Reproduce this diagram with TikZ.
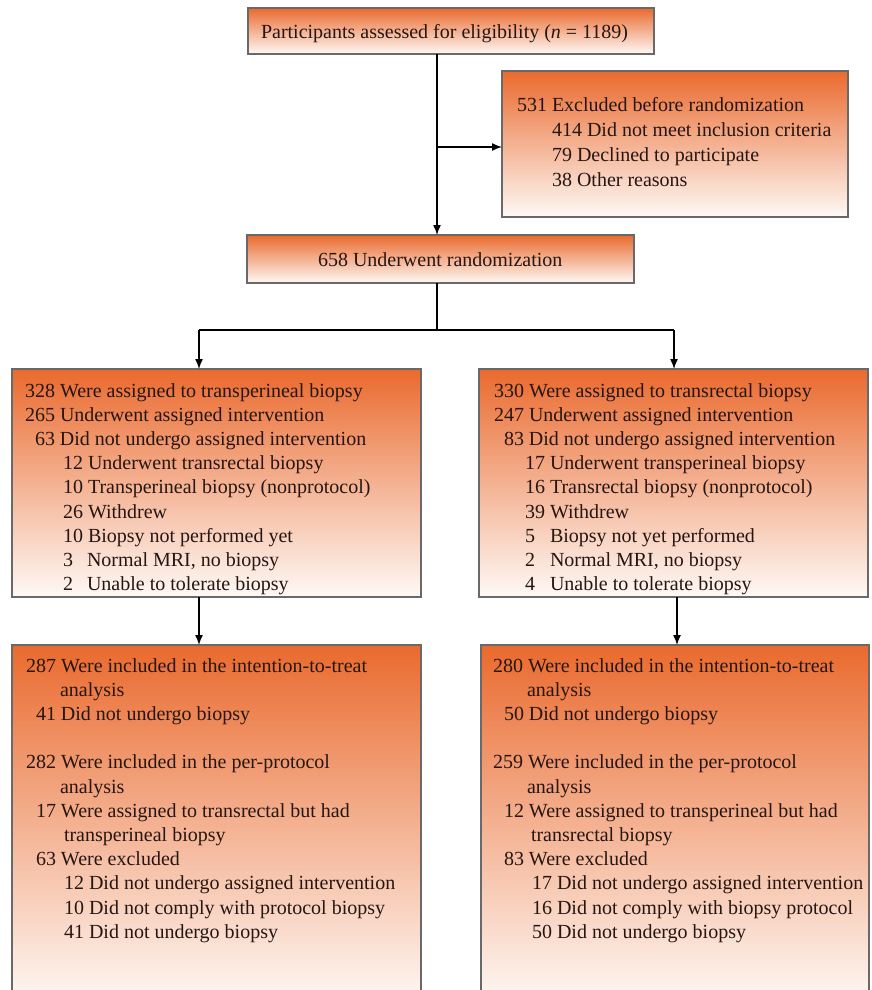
\documentclass[tikz,border=0pt]{standalone}
\usepackage{fontspec}
\setmainfont{Liberation Serif}
\usetikzlibrary{arrows.meta}
\definecolor{otop}{RGB}{234,106,46}
\definecolor{omid}{RGB}{243,166,126}
\definecolor{obot}{RGB}{254,249,246}
\definecolor{boxgray}{RGB}{105,105,105}
\definecolor{ink}{RGB}{38,22,18}
\tikzset{
  box/.style={draw=boxgray, line width=1.3pt, top color=otop, middle color=omid, bottom color=obot, inner sep=0pt, outer sep=0pt, anchor=north west},
  txt/.style={anchor=base west, inner sep=0pt, outer sep=0pt, text=ink, font=\fontsize{20}{24.2}\selectfont},
  arr/.style={draw=black, line width=1.4pt, -{Latex[length=10pt,width=8pt]}},
  ln/.style={draw=black, line width=1.4pt}
}
\begin{document}
\begin{tikzpicture}[x=1pt,y=-1pt]
\clip (0,0) rectangle (872,990);
\fill[white] (0,0) rectangle (872,990);
% boxes
\node[box, minimum width=406pt, minimum height=46pt] (b1) at (248,8) {};
\node[box, minimum width=346pt, minimum height=146pt] (b2) at (502,71) {};
\node[box, minimum width=387pt, minimum height=48pt] (b3) at (247,235) {};
\node[box, minimum width=409pt, minimum height=228pt] (bl) at (12,369) {};
\node[box, minimum width=389pt, minimum height=228pt] (br) at (479,369) {};
\node[box, minimum width=409pt, minimum height=360pt] (cl) at (12,645) {};
\node[box, minimum width=388pt, minimum height=360pt] (cr) at (481,645) {};
% texts
\node[txt] (t1) at (261,39) {Participants assessed for eligibility (\textit{n} = 1189)};
\node[txt] (t2) at (517,111) {\fontsize{20}{25.3}\selectfont\begin{tabular}[t]{@{}l@{}}
531 Excluded before randomization\\
\hspace*{35pt}414 Did not meet inclusion criteria\\
\hspace*{35pt}79 Declined to participate\\
\hspace*{35pt}38 Other reasons
\end{tabular}};
\node[txt] (t3) at (318,266) {658 Underwent randomization};
\node[txt] (tl) at (25,397) {\begin{tabular}[t]{@{}l@{}}
328 Were assigned to transperineal biopsy\\
265 Underwent assigned intervention\\
\hspace*{10pt}63 Did not undergo assigned intervention\\
\hspace*{38pt}12 Underwent transrectal biopsy\\
\hspace*{38pt}10 Transperineal biopsy (nonprotocol)\\
\hspace*{38pt}26 Withdrew\\
\hspace*{38pt}10 Biopsy not performed yet\\
\hspace*{38pt}\makebox[24pt][l]{3}Normal MRI, no biopsy\\
\hspace*{38pt}\makebox[24pt][l]{2}Unable to tolerate biopsy
\end{tabular}};
\node[txt] (tr) at (494,397) {\begin{tabular}[t]{@{}l@{}}
330 Were assigned to transrectal biopsy\\
247 Underwent assigned intervention\\
\hspace*{10pt}83 Did not undergo assigned intervention\\
\hspace*{31pt}17 Underwent transperineal biopsy\\
\hspace*{31pt}16 Transrectal biopsy (nonprotocol)\\
\hspace*{31pt}39 Withdrew\\
\hspace*{31pt}\makebox[25pt][l]{5}Biopsy not yet performed\\
\hspace*{31pt}\makebox[25pt][l]{2}Normal MRI, no biopsy\\
\hspace*{31pt}\makebox[25pt][l]{4}Unable to tolerate biopsy
\end{tabular}};
\node[txt] (ul) at (26,672) {\begin{tabular}[t]{@{}l@{}}
287 Were included in the intention-to-treat\\
\hspace*{34pt}analysis\\
\hspace*{10pt}41 Did not undergo biopsy\\[24.2pt]
282 Were included in the per-protocol\\
\hspace*{34pt}analysis\\
\hspace*{10pt}17 Were assigned to transrectal but had\\
\hspace*{38pt}transperineal biopsy\\
\hspace*{10pt}63 Were excluded\\
\hspace*{38pt}12 Did not undergo assigned intervention\\
\hspace*{38pt}10 Did not comply with protocol biopsy\\
\hspace*{38pt}41 Did not undergo biopsy
\end{tabular}};
\node[txt] (ur) at (493,672) {\begin{tabular}[t]{@{}l@{}}
280 Were included in the intention-to-treat\\
\hspace*{34pt}analysis\\
\hspace*{11pt}50 Did not undergo biopsy\\[24.2pt]
259 Were included in the per-protocol\\
\hspace*{34pt}analysis\\
\hspace*{11pt}12 Were assigned to transperineal but had\\
\hspace*{38pt}transrectal biopsy\\
\hspace*{11pt}83 Were excluded\\
\hspace*{39pt}17 Did not undergo assigned intervention\\
\hspace*{39pt}16 Did not comply with biopsy protocol\\
\hspace*{39pt}50 Did not undergo biopsy
\end{tabular}};
% connector coordinates
\coordinate (vx) at (437,0);
\coordinate (ex) at (437,147);
\coordinate (sp) at (437,330);
\coordinate (lx) at (199,330);
\coordinate (rx) at (674,330);
\coordinate (lx2) at (199,0);
\coordinate (rx2) at (677,0);
% connectors
\draw[arr] (vx |- b1.south) -- (vx |- b3.north);
\draw[arr] (ex) -- (ex -| b2.west);
\draw[ln] (vx |- b3.south) -- (sp);
\draw[ln] (lx) -- (rx);
\draw[arr] (lx) -- (lx |- bl.north);
\draw[arr] (rx) -- (rx |- br.north);
\draw[arr] (lx2 |- bl.south) -- (lx2 |- cl.north);
\draw[arr] (rx2 |- br.south) -- (rx2 |- cr.north);
\end{tikzpicture}
\end{document}
